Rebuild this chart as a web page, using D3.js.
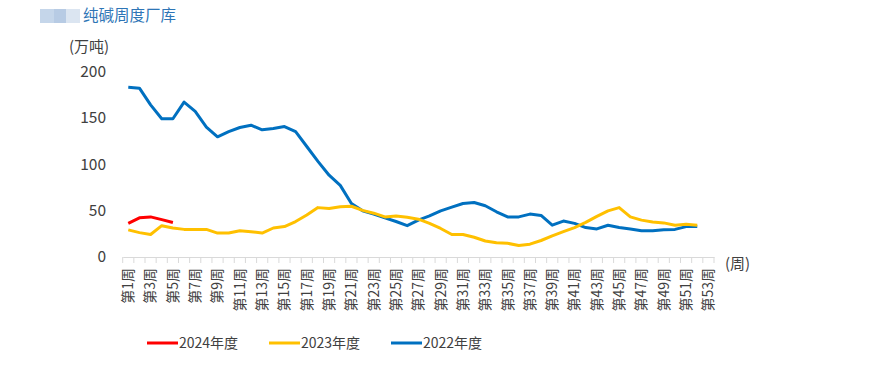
<!DOCTYPE html>
<html>
<head>
<meta charset="utf-8">
<script src="https://cdn.jsdelivr.net/npm/d3@7"></script>
<style>
  body { margin: 0; background: #fff; }
  svg text { font-family: "Noto Sans CJK SC", "Noto Sans", sans-serif; }
</style>
</head>
<body>
<script>
// weeks 1..53
const weeks = d3.range(1, 54);
const seriesNames = ["2024年度", "2023年度", "2022年度"];
const seriesColors = ["#ff0000", "#ffc000", "#0070c0"];

const v2024 = [36, 42, 43, 40, 37];
const v2023 = [29, 26, 24, 33.5, 31, 29.5, 29.5, 29.5, 25.5, 25.5, 28, 27, 25.5, 31, 32.5,
  38, 45, 53, 52, 54, 54.5, 50, 47, 43, 44, 42.5, 40.5, 36, 30.5, 24, 24, 21, 17, 15, 14.5,
  12, 13.5, 17.5, 22.5, 27, 31.5, 37, 43.5, 49.5, 53, 43, 39.5, 37.5, 36.5, 34, 35, 34];
const v2022 = [183, 182, 164, 149, 149, 167, 157, 140, 129.5, 135, 139.5, 142, 137, 138.5,
  140.5, 135, 119, 103, 88, 77, 57.5, 49.5, 46, 42, 38, 33.5, 39.5, 44, 49.5, 53.5, 57.5, 58.5,
  55, 48.5, 43, 43, 46, 44.5, 34, 38.5, 36, 31.5, 30, 34, 31.5, 30, 28, 28, 29, 29.5, 32.5, 32.5];

const yTicks = [0, 50, 100, 150, 200];

const svg = d3.select("body").append("svg")
    .attr("width", 872)
    .attr("height", 371);

const x = d3.scaleBand()
    .domain(weeks)
    .range([122.7, 714]);

const y = d3.scaleLinear()
    .domain([0, 200])
    .range([256.7, 71.5]);

// blurred logo block before the title
const logo = svg.append("g");
[["#c5d6ea", 40, 14], ["#b7cbe4", 54, 12], ["#dbe5f1", 66, 14]].forEach(d => {
    logo.append("rect")
        .attr("x", d[1]).attr("y", 9)
        .attr("width", d[2]).attr("height", 14)
        .attr("fill", d[0]);
});

svg.append("text")
    .attr("x", 83).attr("y", 21)
    .attr("fill", "#2e75b6")
    .style("font-size", "15.5px")
    .text("纯碱周度厂库");

svg.append("text")
    .attr("x", 69).attr("y", 52)
    .attr("fill", "#404040")
    .style("font-size", "15px")
    .text("(万吨)");

// y axis labels (no line)
const yAxis = svg.append("g")
    .attr("transform", "translate(106,0)")
    .call(d3.axisLeft(y).tickValues(yTicks).tickSize(0).tickPadding(0));
yAxis.select(".domain").remove();
yAxis.selectAll("text")
    .attr("fill", "#404040")
    .style("font-size", "15.5px");

// x axis
const xAxis = svg.append("g")
    .attr("transform", "translate(0,257)")
    .call(d3.axisBottom(x)
        .tickSize(0)
        .tickFormat(d => d % 2 === 1 ? "第" + d + "周" : ""));
xAxis.select(".domain").attr("stroke", "#d9d9d9");
xAxis.selectAll("text")
    .attr("fill", "#404040")
    .style("font-size", "14px")
    .attr("transform", "rotate(-90)")
    .attr("text-anchor", "end")
    .attr("x", -11)
    .attr("y", 0)
    .attr("dy", "0.35em");

// tick marks between categories
const bounds = weeks.map(w => x(w)).concat([x(53) + x.bandwidth()]);
svg.append("g").selectAll("line")
    .data(bounds)
    .join("line")
    .attr("x1", d => d).attr("x2", d => d)
    .attr("y1", 257).attr("y2", 263)
    .attr("stroke", "#d9d9d9");

svg.append("text")
    .attr("x", 725).attr("y", 269)
    .attr("fill", "#404040")
    .style("font-size", "15px")
    .text("(周)");

const line = d3.line()
    .x((d, i) => x(weeks[i]) + x.bandwidth() / 2)
    .y(d => y(d));

const allSeries = [v2024, v2023, v2022];
// draw 2022 first, 2024 on top
[2, 1, 0].forEach(i => {
    svg.append("path")
        .datum(allSeries[i])
        .attr("d", line)
        .attr("fill", "none")
        .attr("stroke", seriesColors[i])
        .attr("stroke-width", 3)
        .attr("stroke-linejoin", "round");
});

// legend
const legendX = [147, 269, 391];
seriesNames.forEach((name, i) => {
    svg.append("line")
        .attr("x1", legendX[i]).attr("x2", legendX[i] + 31)
        .attr("y1", 343).attr("y2", 343)
        .attr("stroke", seriesColors[i])
        .attr("stroke-width", 3);
    svg.append("text")
        .attr("x", legendX[i] + 32).attr("y", 348)
        .attr("fill", "#404040")
        .style("font-size", "14px")
        .text(name);
});
</script>
</body>
</html>
